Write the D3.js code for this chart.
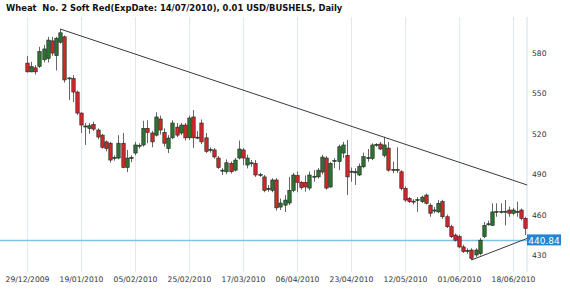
<!DOCTYPE html>
<html>
<head>
<meta charset="utf-8">
<script src="https://cdn.jsdelivr.net/npm/d3@7"></script>
<style>
  body { margin: 0; background: #fff; }
  svg text { font-family: 'DejaVu Sans', Verdana, sans-serif; }
</style>
</head>
<body>
<div id="chart"></div>
<script>
const title = 'Wheat  No. 2 Soft Red(ExpDate: 14/07/2010), 0.01 USD/BUSHELS, Daily';

const opens = [572.5, 566, 569, 570, 575, 576, 589, 578, 588, 592, 561, 561, 551, 535.4, 525.8,
  524,
  527, 522.8, 519, 514, 513, 502, 502, 513, 495, 502, 505.7, 511, 511.7, 524, 520.6, 519, 531, 521, 509, 517, 525, 520.6, 526.5, 517, 532.5, 517, 528, 517, 508, 508, 502, 492.6, 491.8, 498, 493, 502, 508, 496.8, 498, 498, 489.4, 488,
  479,
  478, 485.7, 465.6, 467, 468.6, 478, 489, 484, 484, 479.7, 488, 488, 491.6, 502, 480.5, 499.8, 499.3, 505.7, 504, 491.6, 491, 489.4, 495.5, 501.8, 501.8, 511.7, 512.4, 504, 509.4, 493, 493, 491.8, 479.5, 472,
  470,
  470.8, 469.6, 474.5, 467, 463, 462, 469.6, 458.4, 451, 444.8, 443.6, 436, 433, 433.7, 430, 431, 443.6, 452.8, 452, 462, 462, 462, 463.4, 461, 462, 463.4, 457.2];

const closes = [566, 570, 566, 581, 583, 589.6, 580, 591, 595, 560, 561.5, 551, 535.4, 526.5, 525.8,
  526,
  523.5, 517.6, 510, 509, 500.5, 502.5, 513, 495, 502, 502.5, 511.7, 511.5, 524, 521, 514, 532.5, 522.8, 513, 516.8, 528, 519, 526.5, 517, 531.7, 517, 517.5, 514, 507, 508.5, 502.8, 495, 493, 498.5, 491.8, 500.5, 508.7, 502, 502, 498.5, 489.4, 489.8, 478,
  479.5,
  485.7, 465, 468.6, 470.8, 478, 489.4, 484, 480, 480.5, 489.4, 488.5, 493, 502.7, 479.7, 498, 500.3, 510.4, 511.7, 488, 492.2, 492, 495.9, 503, 502.3, 511.7, 512.2, 508.7, 511.7, 493, 493.5, 493.5, 479.5, 470.8, 469.6,
  469.3,
  471.2, 473, 468.4, 461, 463.4, 468.4, 458.4, 451, 443.6, 441, 436, 432.5, 433.4, 427.5, 433.7, 441, 452, 453.2, 462, 462.4, 462.4, 462.5, 461, 463.4, 462.4, 457.2, 449.8];

const highs = [577.7, 573.5, 571, 584.6, 586, 592, 592, 592, 597.8, 593, 562, 563.6, 552, 536, 528,
  528,
  529, 524, 520, 515, 514, 504, 519, 520.6, 508, 504, 514, 513, 529.7, 530, 522, 536, 533.5, 524, 519, 530, 528, 528, 528, 533.5, 537.6, 522, 530.6, 520.6, 510, 509.4, 503.5, 494.5, 501, 499.5, 502, 515, 509.4, 504.4, 500.5, 500.5, 491, 489.4,
  482,
  487, 487, 472, 474.5, 488, 491, 492, 485, 489, 492, 493, 494.5, 504.4, 503.5, 499, 502, 512, 514, 515.4, 495, 494.4, 498, 506, 508.7, 513, 513, 514, 517.8, 514, 499.3, 510, 493, 481, 473,
  471.5,
  473, 474, 475.5, 468.4, 465.6, 470.8, 471, 460, 452.5, 446, 445, 437.5, 435, 435, 435, 442.5, 454.5, 455.5, 468.4, 468.4, 468.4, 470.8, 466, 465, 469.6, 464.5, 458.4];

const lows = [565.5, 565.7, 564, 569, 573, 573, 578, 567, 587, 558, 545, 543.6, 534, 520.6, 511.7,
  520,
  522, 516, 509, 507, 498.5, 500, 501, 494.5, 491.6, 499, 504, 509, 510.5, 513, 510, 518, 519.5, 510.5, 505.7, 516, 517.6, 519, 515, 515.5, 509.4, 516, 512.4, 505.7, 506, 501.5, 494, 489.4, 490, 490.5, 492, 501, 496.7, 494.3, 495.5, 488, 488, 476.6,
  477,
  476.6, 463, 463.4, 461.9, 467.1, 476.6, 476.6, 478.5, 477, 478, 484.4, 486.7, 490, 478.5, 480, 494.4, 493, 502, 474.5, 484.4, 482, 488.6, 494.4, 499.3, 500.5, 510.4, 507.9, 502.5, 492, 490.7, 491, 478, 469.5, 468.6,
  467.5,
  462, 468.6, 467.5, 458.4, 461, 461, 456.8, 450, 442.5, 440, 435, 431.5, 431, 426.3, 428.5, 429.7, 442.5, 451.7, 451.7, 458.4, 460.8, 452, 458.4, 459.5, 458.4, 455.7, 444.8];

const dateLabels = ['29/12/2009', '19/01/2010', '05/02/2010', '25/02/2010', '17/03/2010',
  '06/04/2010', '23/04/2010', '12/05/2010', '01/06/2010', '18/06/2010'];
const dateIndex = [0, 13, 26, 39, 52, 65, 78, 91, 104, 117];
const priceTicks = [430, 460, 490, 520, 550, 580];

const upperTrend = [{ i: 8, v: 597.8 }, { i: 120.4, v: 482 }];
const lowerTrend = [{ i: 107, v: 426.3 }, { i: 120.4, v: 442.3 }];
const levelLine = 440.84;

const width = 570, height = 289;
const plotTop = 17, plotBottom = 272, plotRight = 527;

const candles = opens.map((o, i) => ({ i, o, h: highs[i], l: lows[i], c: closes[i] }));

const svg = d3.select('#chart').append('svg')
  .attr('width', width)
  .attr('height', height);

const x = d3.scaleLinear().domain([0, 117]).range([27, 513]);
const y = d3.scaleLinear().domain([430, 580]).range([255, 53]);

// date axis + vertical grid
const xAxis = svg.append('g')
  .attr('transform', `translate(0,${plotBottom})`)
  .call(d3.axisBottom(x)
    .tickValues(dateIndex)
    .tickFormat((d, k) => dateLabels[k])
    .tickSize(-(plotBottom - plotTop))
    .tickPadding(5));
xAxis.select('.domain').remove();
xAxis.selectAll('line').attr('stroke', '#dde9f3');
xAxis.selectAll('text').attr('fill', '#333').style('font-size', '7.6px');

// right axis line
svg.append('line')
  .attr('x1', plotRight).attr('x2', plotRight)
  .attr('y1', plotTop).attr('y2', plotBottom)
  .attr('stroke', '#cfe0ee');

const yAxis = svg.append('g')
  .attr('transform', `translate(${plotRight},0)`)
  .call(d3.axisRight(y).tickValues(priceTicks).tickSize(0).tickPadding(5));
yAxis.select('.domain').remove();
yAxis.selectAll('text').attr('fill', '#333').style('font-size', '7.6px');

// level line
svg.append('line')
  .attr('x1', 0).attr('x2', plotRight)
  .attr('y1', y(levelLine)).attr('y2', y(levelLine))
  .attr('stroke', '#7fc3ea')
  .attr('stroke-width', 1.5);

// candles
const g = svg.append('g');
g.selectAll('line.wick')
  .data(candles)
  .enter()
  .append('line')
  .attr('class', 'wick')
  .attr('x1', d => Math.round(x(d.i)) + 0.5)
  .attr('x2', d => Math.round(x(d.i)) + 0.5)
  .attr('y1', d => y(d.h))
  .attr('y2', d => y(d.l))
  .attr('stroke', '#666')
  .attr('stroke-width', 1);

g.selectAll('rect.body')
  .data(candles)
  .enter()
  .append('rect')
  .attr('class', 'body')
  .attr('x', d => Math.round(x(d.i)) - 1.2)
  .attr('width', 3.4)
  .attr('y', d => y(Math.max(d.o, d.c)))
  .attr('height', d => Math.max(1, Math.abs(y(d.o) - y(d.c))))
  .attr('fill', d => d.c >= d.o ? '#2b7530' : '#d02828')
  .attr('stroke', '#222')
  .attr('stroke-width', 0.6);

// trend lines
const line = d3.line().x(d => x(d.i)).y(d => y(d.v));
[upperTrend, lowerTrend].forEach(t => {
  svg.append('path')
    .attr('d', line(t))
    .attr('fill', 'none')
    .attr('stroke', '#3a3a3a')
    .attr('stroke-width', 1);
});

// level label
const ly = y(levelLine);
svg.append('rect')
  .attr('x', plotRight)
  .attr('y', ly - 6)
  .attr('width', 34)
  .attr('height', 11)
  .attr('fill', '#1f86d3');
svg.append('text')
  .attr('x', plotRight + 17)
  .attr('y', ly + 3.3)
  .attr('text-anchor', 'middle')
  .attr('fill', '#fff')
  .style('font-size', '9px')
  .text(levelLine.toFixed(2));

// title
svg.append('text')
  .attr('x', 6)
  .attr('y', 11)
  .attr('fill', '#111')
  .style('font-size', '8.4px')
  .style('font-weight', 'bold')
  .style('white-space', 'pre')
  .text(title);
</script>
</body>
</html>
